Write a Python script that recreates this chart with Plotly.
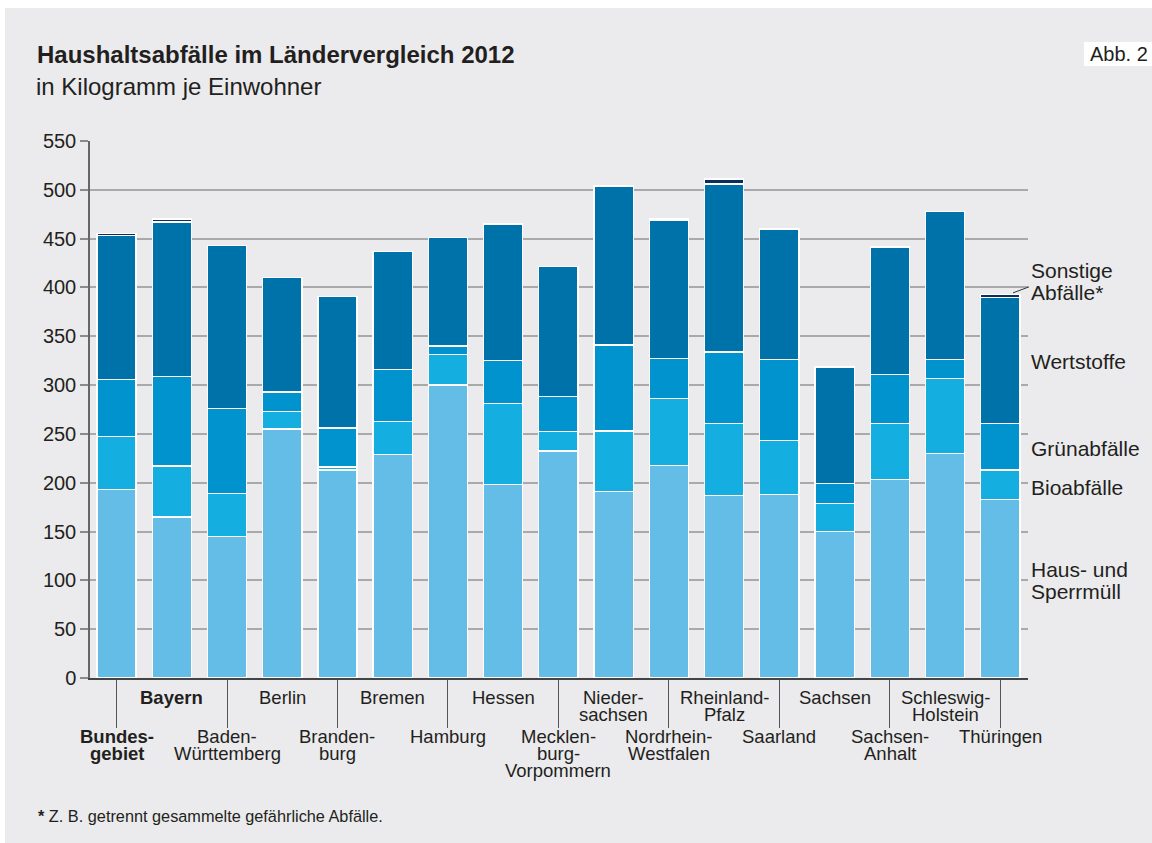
##household waste by federal state 2012, stacked bars##

import plotly.graph_objects as go

# states (left to right) and how their names are broken onto lines
laender = ["Bundesgebiet", "Bayern", "Baden-Württemberg", "Berlin", "Brandenburg",
           "Bremen", "Hamburg", "Hessen", "Mecklenburg-Vorpommern", "Niedersachsen",
           "Nordrhein-Westfalen", "Rheinland-Pfalz", "Saarland", "Sachsen",
           "Sachsen-Anhalt", "Schleswig-Holstein", "Thüringen"]
label_lines = [["Bundes-", "gebiet"], ["Bayern"], ["Baden-", "Württemberg"], ["Berlin"],
               ["Branden-", "burg"], ["Bremen"], ["Hamburg"], ["Hessen"],
               ["Mecklen-", "burg-", "Vorpommern"], ["Nieder-", "sachsen"],
               ["Nordrhein-", "Westfalen"], ["Rheinland-", "Pfalz"], ["Saarland"],
               ["Sachsen"], ["Sachsen-", "Anhalt"], ["Schleswig-", "Holstein"], ["Thüringen"]]
bold_labels = ["Bundesgebiet", "Bayern"]

# kg per inhabitant
haus_sperrmuell = [193, 165, 145, 255, 213, 229, 300, 198, 232.5, 191, 218, 187, 188, 150, 203, 230, 183]
bioabfaelle = [54, 52, 44, 18, 3, 34, 31, 83, 20, 62, 68, 74, 55, 29, 58, 77, 30]
gruenabfaelle = [59, 92, 87, 20, 40, 53, 9, 44, 36, 88, 41, 73, 83.5, 20, 50, 19, 48]
wertstoffe = [147, 158, 167, 117.5, 135, 121, 111.5, 140, 133, 163, 142, 172, 133.5, 119.5, 130.5, 152, 129]
sonstige = [2.5, 3, 0, 0, 0, 0, 0, 0, 0, 0, 1.5, 5, 0, 0, 0, 0, 2.5]

series = [("Haus- und Sperrmüll", haus_sperrmuell, "#63bde6"),
          ("Bioabfälle", bioabfaelle, "#14aee0"),
          ("Grünabfälle", gruenabfaelle, "#0093ce"),
          ("Wertstoffe", wertstoffe, "#0072aa"),
          ("Sonstige Abfälle*", sonstige, "#0b2f5c")]

W, H = 1152, 843
L, R, T, B = 90, 124, 141, 164.5
PW, PH = W - L - R, H - T - B
FONT = "Liberation Sans, Arial, sans-serif"
TXT = "#231f20"
BG = "#ebebed"


def px2x(px):
    # pixel -> paper x
    return (px - L) / PW


def py2y(py):
    # pixel -> paper y
    return (H - B - py) / PH


fig = go.Figure()
for name, vals, col in series:
    fig.add_trace(go.Bar(x=laender, y=vals, name=name, marker_color=col,
                         marker_line=dict(color="white", width=1.3)))

annos = []
# category labels, alternating rows
for i, lines in enumerate(label_lines):
    top_row = i % 2 == 1
    y0 = 698 if top_row else 737
    for k, line in enumerate(lines):
        txt = "<b>%s</b>" % line if laender[i] in bold_labels else line
        annos.append(dict(x=i, xref="x", y=py2y(y0 + 17 * k), yref="paper", text=txt,
                          showarrow=False, xanchor="center", yanchor="middle",
                          font=dict(size=18.5, color=TXT)))

# series labels at right
right_labels = [("Sonstige", 271), ("Abfälle*", 293), ("Wertstoffe", 362),
                ("Grünabfälle", 449), ("Bioabfälle", 488), ("Haus- und", 570), ("Sperrmüll", 592)]
for txt, ypx in right_labels:
    annos.append(dict(x=px2x(1029), xref="paper", y=py2y(ypx), yref="paper", text=txt,
                      showarrow=False, xanchor="left", yanchor="middle",
                      font=dict(size=21, color=TXT)))

annos.append(dict(x=px2x(34), xref="paper", y=py2y(86), yref="paper",
                  text="in Kilogramm je Einwohner", showarrow=False, xanchor="left",
                  yanchor="middle", font=dict(size=24, color=TXT)))
annos.append(dict(x=px2x(36), xref="paper", y=py2y(817), yref="paper",
                  text="<b>*</b> Z. B. getrennt gesammelte gefährliche Abfälle.", showarrow=False,
                  xanchor="left", yanchor="middle", font=dict(size=16.3, color=TXT)))
annos.append(dict(x=px2x(1150), xref="paper", y=py2y(54), yref="paper", text="Abb. 2",
                  showarrow=False, xanchor="right", yanchor="middle",
                  font=dict(size=20, color=TXT)))

shapes = [
    # grey panel with a thin white border, white label box top right
    dict(type="rect", xref="paper", yref="paper", x0=px2x(5), x1=px2x(1160),
         y0=py2y(850), y1=py2y(8), fillcolor=BG, line_width=0, layer="below"),
    dict(type="rect", xref="paper", yref="paper", x0=px2x(1084), x1=px2x(1160),
         y0=py2y(66), y1=py2y(42), fillcolor="white", line_width=0, layer="below"),
    # leader line for Sonstige
    dict(type="line", xref="paper", yref="paper", x0=px2x(1013), x1=px2x(1029),
         y0=py2y(293), y1=py2y(287), line=dict(color="#333333", width=1)),
]

fig.update_layout(
    width=W, height=H,
    margin=dict(l=L, r=R, t=T, b=B),
    barmode="stack", bargap=0.29,
    showlegend=False,
    paper_bgcolor="white", plot_bgcolor=BG,
    font=dict(family=FONT, color=TXT),
    title=dict(text="<b>Haushaltsabfälle im Ländervergleich 2012</b>",
               x=37 / W, xanchor="left", y=1 - 55 / H, yanchor="middle",
               font=dict(size=24, color=TXT)),
    annotations=annos, shapes=shapes,
)
fig.update_xaxes(range=[-0.48, 16.5], tickvals=laender[::2], ticks="outside", ticklen=48,
                 tickcolor="#555555", tickwidth=1, showticklabels=False,
                 showline=True, linecolor="#444444", linewidth=1.5, showgrid=False)
fig.update_yaxes(range=[0, 550], dtick=50, ticks="outside", ticklen=8, tickcolor="#8a8a8a",
                 tickwidth=1.5, showline=True, linecolor="#666666", linewidth=1.5,
                 gridcolor="#a9a9a9", gridwidth=1.5, zeroline=False,
                 tickfont=dict(size=20, color=TXT))

# drop the default page margin so the figure sits at the top-left corner
fig.write_html("out.html", config={"displayModeBar": False},
               post_script="document.body.style.margin='0';document.body.style.overflow='hidden';")
